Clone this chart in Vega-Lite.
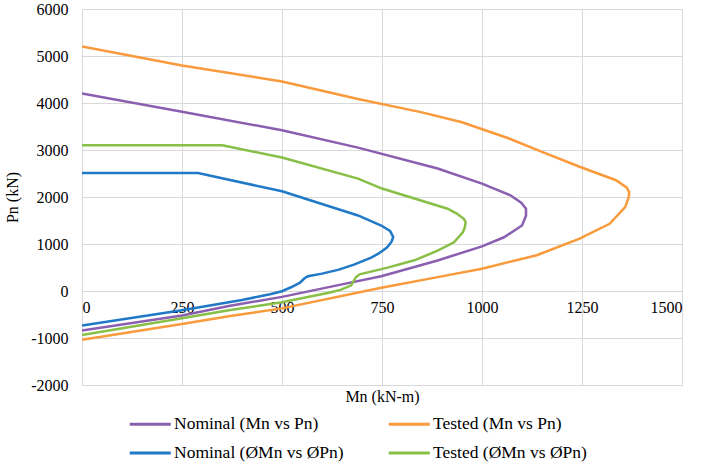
{
  "$schema": "https://vega.github.io/schema/vega-lite/v6.json",
  "width": 600,
  "height": 376,
  "autosize": "none",
  "padding": {"left": 82, "top": 9, "right": 24, "bottom": 77},
  "background": "white",
  "data": {
    "values": [
      {"s": "Nominal (Mn vs Pn)", "i": 1, "Mn": 0, "Pn": 4200},
      {"s": "Nominal (Mn vs Pn)", "i": 2, "Mn": 250, "Pn": 3814},
      {"s": "Nominal (Mn vs Pn)", "i": 3, "Mn": 500, "Pn": 3421},
      {"s": "Nominal (Mn vs Pn)", "i": 4, "Mn": 690, "Pn": 3050},
      {"s": "Nominal (Mn vs Pn)", "i": 5, "Mn": 889, "Pn": 2607},
      {"s": "Nominal (Mn vs Pn)", "i": 6, "Mn": 1000, "Pn": 2286},
      {"s": "Nominal (Mn vs Pn)", "i": 7, "Mn": 1071, "Pn": 2036},
      {"s": "Nominal (Mn vs Pn)", "i": 8, "Mn": 1098, "Pn": 1880},
      {"s": "Nominal (Mn vs Pn)", "i": 9, "Mn": 1110, "Pn": 1750},
      {"s": "Nominal (Mn vs Pn)", "i": 10, "Mn": 1110, "Pn": 1600},
      {"s": "Nominal (Mn vs Pn)", "i": 11, "Mn": 1100, "Pn": 1393},
      {"s": "Nominal (Mn vs Pn)", "i": 12, "Mn": 1055, "Pn": 1143},
      {"s": "Nominal (Mn vs Pn)", "i": 13, "Mn": 1000, "Pn": 950},
      {"s": "Nominal (Mn vs Pn)", "i": 14, "Mn": 889, "Pn": 650},
      {"s": "Nominal (Mn vs Pn)", "i": 15, "Mn": 748, "Pn": 315},
      {"s": "Nominal (Mn vs Pn)", "i": 16, "Mn": 659, "Pn": 157},
      {"s": "Nominal (Mn vs Pn)", "i": 17, "Mn": 500, "Pn": -125},
      {"s": "Nominal (Mn vs Pn)", "i": 18, "Mn": 367, "Pn": -319},
      {"s": "Nominal (Mn vs Pn)", "i": 19, "Mn": 250, "Pn": -521},
      {"s": "Nominal (Mn vs Pn)", "i": 20, "Mn": 0, "Pn": -843},

      {"s": "Tested (Mn vs Pn)", "i": 1, "Mn": 0, "Pn": 5200},
      {"s": "Tested (Mn vs Pn)", "i": 2, "Mn": 250, "Pn": 4800},
      {"s": "Tested (Mn vs Pn)", "i": 3, "Mn": 500, "Pn": 4457},
      {"s": "Tested (Mn vs Pn)", "i": 4, "Mn": 690, "Pn": 4086},
      {"s": "Tested (Mn vs Pn)", "i": 5, "Mn": 850, "Pn": 3800},
      {"s": "Tested (Mn vs Pn)", "i": 6, "Mn": 950, "Pn": 3590},
      {"s": "Tested (Mn vs Pn)", "i": 7, "Mn": 1066, "Pn": 3250},
      {"s": "Tested (Mn vs Pn)", "i": 8, "Mn": 1150, "Pn": 2960},
      {"s": "Tested (Mn vs Pn)", "i": 9, "Mn": 1244, "Pn": 2643},
      {"s": "Tested (Mn vs Pn)", "i": 10, "Mn": 1335, "Pn": 2357},
      {"s": "Tested (Mn vs Pn)", "i": 11, "Mn": 1362, "Pn": 2200},
      {"s": "Tested (Mn vs Pn)", "i": 12, "Mn": 1368, "Pn": 2100},
      {"s": "Tested (Mn vs Pn)", "i": 13, "Mn": 1367, "Pn": 2000},
      {"s": "Tested (Mn vs Pn)", "i": 14, "Mn": 1358, "Pn": 1786},
      {"s": "Tested (Mn vs Pn)", "i": 15, "Mn": 1319, "Pn": 1429},
      {"s": "Tested (Mn vs Pn)", "i": 16, "Mn": 1244, "Pn": 1115},
      {"s": "Tested (Mn vs Pn)", "i": 17, "Mn": 1137, "Pn": 760},
      {"s": "Tested (Mn vs Pn)", "i": 18, "Mn": 1000, "Pn": 475},
      {"s": "Tested (Mn vs Pn)", "i": 19, "Mn": 889, "Pn": 295},
      {"s": "Tested (Mn vs Pn)", "i": 20, "Mn": 742, "Pn": 60},
      {"s": "Tested (Mn vs Pn)", "i": 21, "Mn": 500, "Pn": -370},
      {"s": "Tested (Mn vs Pn)", "i": 22, "Mn": 367, "Pn": -538},
      {"s": "Tested (Mn vs Pn)", "i": 23, "Mn": 250, "Pn": -700},
      {"s": "Tested (Mn vs Pn)", "i": 24, "Mn": 0, "Pn": -1036},

      {"s": "Nominal (ØMn vs ØPn)", "i": 1, "Mn": 0, "Pn": 2510},
      {"s": "Nominal (ØMn vs ØPn)", "i": 2, "Mn": 290, "Pn": 2510},
      {"s": "Nominal (ØMn vs ØPn)", "i": 3, "Mn": 500, "Pn": 2121},
      {"s": "Nominal (ØMn vs ØPn)", "i": 4, "Mn": 690, "Pn": 1607},
      {"s": "Nominal (ØMn vs ØPn)", "i": 5, "Mn": 748, "Pn": 1393},
      {"s": "Nominal (ØMn vs ØPn)", "i": 6, "Mn": 770, "Pn": 1280},
      {"s": "Nominal (ØMn vs ØPn)", "i": 7, "Mn": 778, "Pn": 1150},
      {"s": "Nominal (ØMn vs ØPn)", "i": 8, "Mn": 774, "Pn": 1050},
      {"s": "Nominal (ØMn vs ØPn)", "i": 9, "Mn": 763, "Pn": 930},
      {"s": "Nominal (ØMn vs ØPn)", "i": 10, "Mn": 742, "Pn": 800},
      {"s": "Nominal (ØMn vs ØPn)", "i": 11, "Mn": 723, "Pn": 710},
      {"s": "Nominal (ØMn vs ØPn)", "i": 12, "Mn": 680, "Pn": 560},
      {"s": "Nominal (ØMn vs ØPn)", "i": 13, "Mn": 640, "Pn": 450},
      {"s": "Nominal (ØMn vs ØPn)", "i": 14, "Mn": 600, "Pn": 370},
      {"s": "Nominal (ØMn vs ØPn)", "i": 15, "Mn": 565, "Pn": 313},
      {"s": "Nominal (ØMn vs ØPn)", "i": 16, "Mn": 557, "Pn": 277},
      {"s": "Nominal (ØMn vs ØPn)", "i": 17, "Mn": 545, "Pn": 178},
      {"s": "Nominal (ØMn vs ØPn)", "i": 18, "Mn": 524, "Pn": 85},
      {"s": "Nominal (ØMn vs ØPn)", "i": 19, "Mn": 500, "Pn": -5},
      {"s": "Nominal (ØMn vs ØPn)", "i": 20, "Mn": 470, "Pn": -70},
      {"s": "Nominal (ØMn vs ØPn)", "i": 21, "Mn": 400, "Pn": -190},
      {"s": "Nominal (ØMn vs ØPn)", "i": 22, "Mn": 250, "Pn": -411},
      {"s": "Nominal (ØMn vs ØPn)", "i": 23, "Mn": 0, "Pn": -735},

      {"s": "Tested (ØMn vs ØPn)", "i": 1, "Mn": 0, "Pn": 3100},
      {"s": "Tested (ØMn vs ØPn)", "i": 2, "Mn": 351, "Pn": 3100},
      {"s": "Tested (ØMn vs ØPn)", "i": 3, "Mn": 500, "Pn": 2840},
      {"s": "Tested (ØMn vs ØPn)", "i": 4, "Mn": 690, "Pn": 2390},
      {"s": "Tested (ØMn vs ØPn)", "i": 5, "Mn": 750, "Pn": 2180},
      {"s": "Tested (ØMn vs ØPn)", "i": 6, "Mn": 914, "Pn": 1750},
      {"s": "Tested (ØMn vs ØPn)", "i": 7, "Mn": 938, "Pn": 1643},
      {"s": "Tested (ØMn vs ØPn)", "i": 8, "Mn": 955, "Pn": 1530},
      {"s": "Tested (ØMn vs ØPn)", "i": 9, "Mn": 959, "Pn": 1464},
      {"s": "Tested (ØMn vs ØPn)", "i": 10, "Mn": 957, "Pn": 1350},
      {"s": "Tested (ØMn vs ØPn)", "i": 11, "Mn": 952, "Pn": 1250},
      {"s": "Tested (ØMn vs ØPn)", "i": 12, "Mn": 930, "Pn": 1036},
      {"s": "Tested (ØMn vs ØPn)", "i": 13, "Mn": 889, "Pn": 857},
      {"s": "Tested (ØMn vs ØPn)", "i": 14, "Mn": 831, "Pn": 653},
      {"s": "Tested (ØMn vs ØPn)", "i": 15, "Mn": 764, "Pn": 498},
      {"s": "Tested (ØMn vs ØPn)", "i": 16, "Mn": 694, "Pn": 355},
      {"s": "Tested (ØMn vs ØPn)", "i": 17, "Mn": 685, "Pn": 298},
      {"s": "Tested (ØMn vs ØPn)", "i": 18, "Mn": 673, "Pn": 121},
      {"s": "Tested (ØMn vs ØPn)", "i": 19, "Mn": 648, "Pn": 30},
      {"s": "Tested (ØMn vs ØPn)", "i": 20, "Mn": 620, "Pn": -30},
      {"s": "Tested (ØMn vs ØPn)", "i": 21, "Mn": 500, "Pn": -240},
      {"s": "Tested (ØMn vs ØPn)", "i": 22, "Mn": 367, "Pn": -411},
      {"s": "Tested (ØMn vs ØPn)", "i": 23, "Mn": 250, "Pn": -580},
      {"s": "Tested (ØMn vs ØPn)", "i": 24, "Mn": 0, "Pn": -936}
    ]
  },
  "mark": {"type": "line", "strokeWidth": 2.5, "clip": true},
  "encoding": {
    "x": {
      "field": "Mn",
      "type": "quantitative",
      "scale": {"domain": [0, 1500], "nice": false},
      "axis": {
        "values": [0, 250, 500, 750, 1000, 1250, 1500],
        "labelExpr": "'' + datum.value",
        "offset": -94,
        "domain": true,
        "domainColor": "#d9d9d9",
        "labelPadding": 8,
        "title": "Mn (kN-m)",
        "titleY": 97,
        "titleBaseline": "top"
      }
    },
    "y": {
      "field": "Pn",
      "type": "quantitative",
      "scale": {"domain": [-2000, 6000], "nice": false},
      "axis": {
        "values": [-2000, -1000, 0, 1000, 2000, 3000, 4000, 5000, 6000],
        "labelExpr": "'' + datum.value",
        "labelPadding": 14,
        "title": "Pn (kN)",
        "titleX": -70,
        "titleBaseline": "middle"
      }
    },
    "color": {
      "field": "s",
      "type": "nominal",
      "scale": {
        "domain": ["Nominal (Mn vs Pn)", "Tested (Mn vs Pn)", "Nominal (ØMn vs ØPn)", "Tested (ØMn vs ØPn)"],
        "range": ["#8a5fb0", "#f99a3c", "#2079c7", "#88bf47"]
      },
      "legend": {
        "title": null,
        "orient": "none",
        "direction": "horizontal",
        "legendX": 46,
        "legendY": 403,
        "columns": 2,
        "columnPadding": 38,
        "rowPadding": 8,
        "symbolType": "M-1,0H3",
        "symbolSize": 420,
        "symbolStrokeWidth": 3,
        "labelOffset": 22,
        "labelFontSize": 17.5,
        "labelLimit": 0
      }
    },
    "order": {"field": "i", "type": "quantitative"}
  },
  "config": {
    "view": {"stroke": null},
    "font": "Liberation Serif",
    "axis": {
      "grid": true,
      "gridColor": "#d9d9d9",
      "gridWidth": 1,
      "ticks": false,
      "domain": false,
      "labelFont": "Liberation Serif",
      "labelFontSize": 16,
      "labelColor": "#000",
      "titleFont": "Liberation Serif",
      "titleFontSize": 16,
      "titleFontWeight": "normal",
      "titleColor": "#000"
    },
    "legend": {
      "labelFont": "Liberation Serif",
      "labelColor": "#000"
    }
  }
}
